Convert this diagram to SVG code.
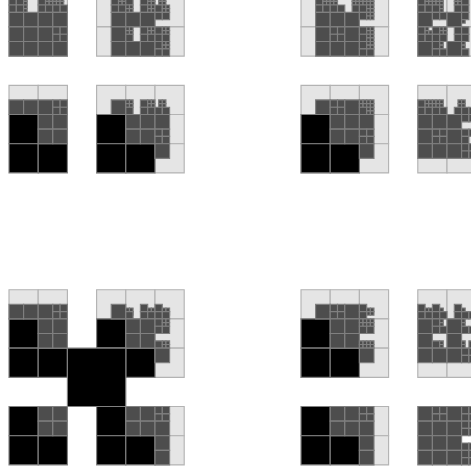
<svg xmlns="http://www.w3.org/2000/svg" width="471" height="473" viewBox="0 0 471 473">
<style>
rect{vector-effect:non-scaling-stroke;stroke-width:1.15px}
.l{fill:#e5e5e5;stroke:#b3b3b3;width:8px;height:8px}
.k{fill:#000;stroke:#808080;width:8px;height:8px}
.a,.b,.c{fill:#4d4d4d;stroke:#808080}
.a{width:4px;height:4px}.b{width:2px;height:2px}.c{width:1px;height:1px}
</style>
<defs>
<g id="q4"><rect class="b" x="0" y="0"/><rect class="b" x="2" y="0"/><rect class="b" x="0" y="2"/><rect class="b" x="2" y="2"/></g>
<g id="q2"><rect class="c" x="0" y="0"/><rect class="c" x="1" y="0"/><rect class="c" x="0" y="1"/><rect class="c" x="1" y="1"/></g>
<g id="l3x3"><rect class="l" x="0" y="0"/><rect class="l" x="8" y="0"/><rect class="l" x="16" y="0"/><rect class="l" x="0" y="8"/><rect class="l" x="8" y="8"/><rect class="l" x="16" y="8"/><rect class="l" x="0" y="16"/><rect class="l" x="8" y="16"/><rect class="l" x="16" y="16"/></g>
</defs>
<g transform="translate(9 85.3) scale(3.65)">
<g id="block-top-left-a" transform="translate(0 -24)">
<rect class="l" x="0" y="0"/><rect class="l" x="8" y="0"/><rect class="l" x="0" y="8"/><rect class="l" x="8" y="8"/>
<rect class="b" x="0" y="0"/><rect class="b" x="2" y="0"/><rect class="b" x="0" y="2"/><rect class="b" x="2" y="2"/>
<rect class="c" x="4" y="0"/><rect class="c" x="4" y="1"/><rect class="c" x="4" y="2"/><rect class="c" x="4" y="3"/>
<rect class="b" x="8" y="0"/><use href="#q2" x="10" y="0"/><rect class="b" x="8" y="2"/><rect class="b" x="10" y="2"/>
<use href="#q2" x="12" y="0"/><rect class="c" x="14" y="0"/><rect class="c" x="14" y="1"/><rect class="b" x="12" y="2"/><rect class="b" x="14" y="2"/>
<rect class="a" x="0" y="4"/><rect class="a" x="4" y="4"/><rect class="a" x="8" y="4"/><rect class="a" x="12" y="4"/>
<rect class="a" x="0" y="8"/><rect class="a" x="4" y="8"/><rect class="a" x="8" y="8"/><use href="#q4" x="12" y="8"/>
<rect class="a" x="0" y="12"/><rect class="a" x="4" y="12"/><rect class="a" x="8" y="12"/><rect class="a" x="12" y="12"/>
</g>
<g id="block-top-left-b" transform="translate(24 -24)">
<rect class="l" x="0" y="0"/><rect class="l" x="8" y="0"/><rect class="l" x="16" y="0"/><rect class="l" x="0" y="8"/><rect class="l" x="8" y="8"/><rect class="l" x="16" y="8"/>
<rect class="b" x="4" y="0"/><use href="#q2" x="6" y="0"/><rect class="b" x="4" y="2"/><rect class="b" x="6" y="2"/>
<rect class="b" x="8" y="0"/><use href="#q2" x="8" y="2"/>
<rect class="b" x="12" y="0"/><use href="#q2" x="14" y="0"/><rect class="b" x="12" y="2"/><use href="#q2" x="14" y="2"/>
<use href="#q2" x="17" y="0"/><rect class="b" x="16" y="2"/><use href="#q2" x="18" y="2"/>
<rect class="a" x="4" y="4"/><rect class="a" x="8" y="4"/><rect class="a" x="12" y="4"/><rect class="b" x="16" y="4"/><rect class="b" x="18" y="4"/>
<rect class="a" x="4" y="8"/><use href="#q2" x="8" y="8"/><rect class="b" x="8" y="10"/><rect class="b" x="12" y="8"/><use href="#q2" x="14" y="8"/><rect class="b" x="12" y="10"/><rect class="b" x="14" y="10"/><rect class="b" x="16" y="8"/><use href="#q2" x="18" y="8"/><rect class="b" x="16" y="10"/><rect class="b" x="18" y="10"/>
<rect class="a" x="4" y="12"/><rect class="a" x="8" y="12"/><rect class="a" x="12" y="12"/><rect class="b" x="16" y="12"/><use href="#q2" x="18" y="12"/><rect class="b" x="16" y="14"/><rect class="b" x="18" y="14"/>
</g>
<g id="block-mid-left-a">
<rect class="l" x="0" y="0"/><rect class="l" x="8" y="0"/><rect class="k" x="0" y="8"/><rect class="k" x="0" y="16"/><rect class="k" x="8" y="16"/>
<rect class="a" x="0" y="4"/><rect class="a" x="4" y="4"/><rect class="a" x="8" y="4"/><use href="#q4" x="12" y="4"/>
<rect class="a" x="8" y="8"/><rect class="a" x="12" y="8"/><rect class="a" x="8" y="12"/><rect class="a" x="12" y="12"/>
</g>
<g id="block-mid-left-b" transform="translate(24 0)">
<use href="#l3x3"/><rect class="k" x="0" y="8"/><rect class="k" x="0" y="16"/><rect class="k" x="8" y="16"/>
<rect class="a" x="4" y="4"/><use href="#q2" x="8" y="4"/><rect class="b" x="8" y="6"/>
<rect class="b" x="12" y="4"/><use href="#q2" x="14" y="4"/><rect class="b" x="12" y="6"/><rect class="b" x="14" y="6"/>
<use href="#q2" x="17" y="4"/><rect class="b" x="16" y="6"/><rect class="b" x="18" y="6"/>
<rect class="a" x="8" y="8"/><rect class="a" x="12" y="8"/><rect class="a" x="16" y="8"/><rect class="a" x="8" y="12"/><rect class="a" x="12" y="12"/><use href="#q4" x="16" y="12"/><rect class="a" x="16" y="16"/>
</g>
<g id="block-top-right-a" transform="translate(80 -24)">
<rect class="l" x="0" y="0"/><rect class="l" x="8" y="0"/><rect class="l" x="16" y="0"/><rect class="l" x="0" y="8"/><rect class="l" x="8" y="8"/><rect class="l" x="16" y="8"/>
<rect class="b" x="4" y="0"/><use href="#q2" x="6" y="0"/><rect class="b" x="4" y="2"/><rect class="b" x="6" y="2"/>
<use href="#q2" x="8" y="0"/><rect class="b" x="8" y="2"/><rect class="b" x="10" y="2"/>
<use href="#q2" x="14" y="0"/><rect class="b" x="14" y="2"/><use href="#q2" x="16" y="0"/><use href="#q2" x="18" y="0"/><rect class="b" x="16" y="2"/><use href="#q2" x="18" y="2"/>
<rect class="a" x="4" y="4"/><rect class="a" x="8" y="4"/><rect class="a" x="12" y="4"/><rect class="b" x="16" y="4"/><use href="#q2" x="18" y="4"/>
<rect class="a" x="4" y="8"/><use href="#q4" x="8" y="8"/><rect class="a" x="12" y="8"/><rect class="b" x="16" y="8"/><use href="#q2" x="18" y="8"/><rect class="b" x="16" y="10"/><use href="#q2" x="18" y="10"/>
<rect class="a" x="4" y="12"/><rect class="a" x="8" y="12"/><rect class="a" x="12" y="12"/><rect class="b" x="16" y="12"/><use href="#q2" x="18" y="12"/><rect class="b" x="16" y="14"/><rect class="b" x="18" y="14"/>
</g>
<g id="block-top-right-b" transform="translate(112 -24)">
<rect class="l" x="0" y="0"/><rect class="l" x="8" y="0"/><rect class="l" x="0" y="8"/><rect class="l" x="8" y="8"/>
<rect class="b" x="0" y="0"/><use href="#q2" x="2" y="0"/><use href="#q2" x="4" y="0"/><rect class="c" x="6" y="0"/><rect class="c" x="6" y="1"/><rect class="b" x="0" y="2"/><rect class="b" x="2" y="2"/><rect class="b" x="4" y="2"/><rect class="c" x="6" y="2"/><rect class="c" x="6" y="3"/>
<use href="#q2" x="10" y="0"/><rect class="b" x="10" y="2"/><rect class="b" x="12" y="0"/><rect class="b" x="12" y="2"/>
<rect class="a" x="0" y="4"/><rect class="b" x="4" y="4"/><rect class="b" x="6" y="4"/><rect class="a" x="8" y="4"/><rect class="b" x="12" y="4"/><rect class="c" x="12" y="6"/>
<rect class="b" x="0" y="8"/><rect class="c" x="2" y="8"/><rect class="c" x="2" y="9"/><rect class="c" x="3" y="9"/><rect class="b" x="0" y="10"/><rect class="b" x="2" y="10"/><rect class="b" x="4" y="8"/><use href="#q2" x="6" y="8"/><rect class="b" x="4" y="10"/><rect class="b" x="6" y="10"/>
<rect class="b" x="10" y="8"/><rect class="b" x="10" y="10"/><rect class="b" x="12" y="8"/><rect class="b" x="12" y="10"/>
<rect class="a" x="0" y="12"/><rect class="b" x="4" y="12"/><rect class="b" x="4" y="14"/><rect class="c" x="6" y="12"/><rect class="c" x="6" y="13"/><rect class="b" x="6" y="14"/><rect class="a" x="8" y="12"/><rect class="c" x="12" y="12"/><rect class="c" x="12" y="13"/><rect class="b" x="12" y="14"/>
</g>
<g id="block-mid-right-a" transform="translate(80 0)">
<use href="#l3x3"/><rect class="k" x="0" y="8"/><rect class="k" x="0" y="16"/><rect class="k" x="8" y="16"/>
<rect class="a" x="4" y="4"/><use href="#q4" x="8" y="4"/><rect class="a" x="12" y="4"/><use href="#q2" x="16" y="4"/><use href="#q2" x="18" y="4"/><rect class="b" x="16" y="6"/><use href="#q2" x="18" y="6"/>
<rect class="a" x="8" y="8"/><rect class="a" x="12" y="8"/><rect class="a" x="16" y="8"/><rect class="a" x="8" y="12"/><rect class="a" x="12" y="12"/><use href="#q4" x="16" y="12"/><rect class="a" x="16" y="16"/>
</g>
<g id="block-mid-right-b" transform="translate(112 0)">
<use href="#l3x3"/>
<rect class="b" x="0" y="4"/><use href="#q2" x="2" y="4"/><use href="#q2" x="4" y="4"/><rect class="c" x="6" y="4"/><rect class="c" x="6" y="5"/><rect class="b" x="0" y="6"/><rect class="b" x="2" y="6"/><rect class="b" x="4" y="6"/><rect class="b" x="6" y="6"/>
<use href="#q2" x="11" y="4"/><rect class="b" x="10" y="6"/><rect class="b" x="12" y="6"/><rect class="b" x="14" y="6"/>
<rect class="a" x="0" y="8"/><rect class="a" x="4" y="8"/><rect class="a" x="8" y="8"/><rect class="b" x="12" y="8"/><rect class="b" x="14" y="8"/>
<rect class="a" x="0" y="12"/><use href="#q4" x="4" y="12"/><rect class="a" x="8" y="12"/><rect class="b" x="12" y="12"/><rect class="b" x="12" y="14"/><rect class="b" x="14" y="12"/>
<rect class="a" x="0" y="16"/><rect class="a" x="4" y="16"/><rect class="a" x="8" y="16"/><rect class="b" x="12" y="16"/><rect class="b" x="12" y="18"/><rect class="b" x="14" y="16"/><rect class="b" x="14" y="18"/>
</g>
<g id="block-low-left-a" transform="translate(0 56)">
<rect class="l" x="0" y="0"/><rect class="l" x="8" y="0"/><rect class="k" x="0" y="8"/><rect class="k" x="0" y="16"/><rect class="k" x="8" y="16"/>
<rect class="a" x="0" y="4"/><rect class="a" x="4" y="4"/><rect class="a" x="8" y="4"/><use href="#q4" x="12" y="4"/>
<rect class="a" x="8" y="8"/><rect class="a" x="12" y="8"/><rect class="a" x="8" y="12"/><rect class="a" x="12" y="12"/>
</g>
<g id="block-low-left-b" transform="translate(24 56)">
<use href="#l3x3"/><rect class="k" x="0" y="8"/><rect class="k" x="0" y="16"/><rect class="k" x="8" y="16"/>
<rect class="a" x="4" y="4"/><use href="#q2" x="8" y="5"/><rect class="b" x="8" y="6"/>
<rect class="b" x="12" y="4"/><use href="#q2" x="14" y="5"/><rect class="b" x="12" y="6"/><rect class="b" x="14" y="6"/>
<rect class="b" x="16" y="4"/><use href="#q2" x="18" y="5"/><rect class="b" x="16" y="6"/><rect class="b" x="18" y="6"/>
<rect class="a" x="8" y="8"/><rect class="a" x="12" y="8"/><rect class="b" x="16" y="8"/><use href="#q2" x="18" y="8"/><rect class="b" x="16" y="10"/><rect class="b" x="18" y="10"/>
<rect class="a" x="8" y="12"/><rect class="a" x="12" y="12"/><rect class="b" x="16" y="14"/><use href="#q2" x="18" y="14"/><rect class="a" x="16" y="16"/>
</g>
<g id="block-center"><rect class="k" x="16" y="72" style="width:16px;height:16px"/></g>
<g id="block-bottom-left-a" transform="translate(0 88)">
<rect class="k" x="0" y="0"/><rect class="k" x="0" y="8"/><rect class="k" x="8" y="8"/>
<rect class="a" x="8" y="0"/><rect class="a" x="12" y="0"/><rect class="a" x="8" y="4"/><rect class="a" x="12" y="4"/>
</g>
<g id="block-bottom-left-b" transform="translate(24 88)">
<rect class="l" x="16" y="0"/><rect class="l" x="16" y="8"/><rect class="k" x="0" y="0"/><rect class="k" x="0" y="8"/><rect class="k" x="8" y="8"/>
<rect class="a" x="8" y="0"/><rect class="a" x="12" y="0"/><rect class="a" x="8" y="4"/><rect class="a" x="12" y="4"/>
<use href="#q4" x="16" y="0"/><rect class="a" x="16" y="4"/><rect class="a" x="16" y="8"/><rect class="a" x="16" y="12"/>
</g>
<g id="block-low-right-a" transform="translate(80 56)">
<use href="#l3x3"/><rect class="k" x="0" y="8"/><rect class="k" x="0" y="16"/><rect class="k" x="8" y="16"/>
<rect class="a" x="4" y="4"/><use href="#q4" x="8" y="4"/><rect class="a" x="12" y="4"/><rect class="b" x="16" y="4"/><use href="#q2" x="18" y="5"/><rect class="b" x="16" y="6"/>
<rect class="a" x="8" y="8"/><rect class="a" x="12" y="8"/><use href="#q2" x="16" y="8"/><use href="#q2" x="18" y="8"/><rect class="b" x="16" y="10"/><rect class="b" x="18" y="10"/>
<rect class="a" x="8" y="12"/><rect class="a" x="12" y="12"/><use href="#q2" x="16" y="14"/><use href="#q2" x="18" y="14"/><rect class="a" x="16" y="16"/>
</g>
<g id="block-low-right-b" transform="translate(112 56)">
<use href="#l3x3"/>
<rect class="b" x="0" y="4"/><use href="#q2" x="2" y="5"/><rect class="b" x="0" y="6"/><rect class="b" x="2" y="6"/><rect class="b" x="4" y="4"/><rect class="c" x="6" y="5"/><rect class="b" x="4" y="6"/><rect class="b" x="6" y="6"/>
<rect class="b" x="10" y="4"/><rect class="c" x="12" y="5"/><rect class="b" x="10" y="6"/><rect class="b" x="12" y="6"/><rect class="b" x="14" y="6"/>
<rect class="a" x="0" y="8"/><rect class="b" x="4" y="8"/><rect class="c" x="6" y="8"/><rect class="c" x="6" y="9"/><rect class="b" x="4" y="10"/><rect class="b" x="6" y="10"/><rect class="a" x="8" y="8"/><rect class="c" x="12" y="8"/><rect class="c" x="12" y="9"/><rect class="b" x="12" y="10"/><rect class="b" x="14" y="10"/>
<rect class="a" x="0" y="12"/><rect class="b" x="4" y="14"/><rect class="c" x="6" y="14"/><rect class="c" x="6" y="15"/><rect class="a" x="8" y="12"/><rect class="c" x="12" y="14"/><rect class="c" x="12" y="15"/><rect class="b" x="14" y="14"/>
<rect class="a" x="0" y="16"/><rect class="a" x="4" y="16"/><rect class="a" x="8" y="16"/><rect class="b" x="12" y="16"/><rect class="b" x="12" y="18"/><rect class="b" x="14" y="16"/><rect class="b" x="14" y="18"/>
</g>
<g id="block-bottom-right-a" transform="translate(80 88)">
<rect class="l" x="16" y="0"/><rect class="l" x="16" y="8"/><rect class="k" x="0" y="0"/><rect class="k" x="0" y="8"/><rect class="k" x="8" y="8"/>
<rect class="a" x="8" y="0"/><rect class="a" x="12" y="0"/><rect class="a" x="8" y="4"/><rect class="a" x="12" y="4"/>
<use href="#q4" x="16" y="0"/><rect class="a" x="16" y="4"/><rect class="a" x="16" y="8"/><rect class="a" x="16" y="12"/>
</g>
<g id="block-bottom-right-b" transform="translate(112 88)">
<rect class="a" x="0" y="0"/><use href="#q4" x="4" y="0"/><rect class="a" x="8" y="0"/><rect class="b" x="12" y="0"/><rect class="b" x="12" y="2"/><rect class="b" x="14" y="0"/><rect class="b" x="14" y="2"/>
<rect class="a" x="0" y="4"/><rect class="a" x="4" y="4"/><rect class="a" x="8" y="4"/><rect class="b" x="12" y="4"/><rect class="b" x="12" y="6"/><rect class="b" x="14" y="4"/><rect class="b" x="14" y="6"/>
<rect class="a" x="0" y="8"/><rect class="a" x="4" y="8"/><rect class="a" x="8" y="8"/><rect class="b" x="12" y="10"/><rect class="b" x="14" y="10"/>
<rect class="a" x="0" y="12"/><rect class="a" x="4" y="12"/><rect class="a" x="8" y="12"/><rect class="b" x="12" y="12"/><rect class="b" x="12" y="14"/><rect class="b" x="14" y="12"/><rect class="b" x="14" y="14"/>
</g>
</g>
</svg>
